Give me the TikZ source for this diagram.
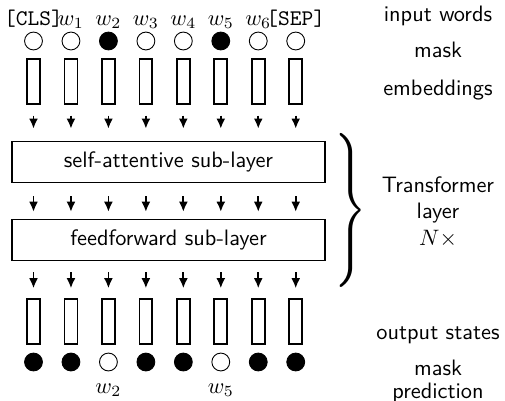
\documentclass[tikz,border=0pt]{standalone}
\usepackage{graphicx}
\usetikzlibrary{calc,positioning,arrows.meta}

\begin{document}
\begin{tikzpicture}[x=0.448pt,y=-0.448pt,font=\sffamily,
    tok/.style={draw,circle,minimum size=8pt,inner sep=0pt},
    msk/.style={tok,fill=black},
    vec/.style={draw,thick,minimum width=5.8pt,minimum height=20pt,inner sep=0pt},
    sublayer/.style={draw,thick,minimum width=140pt,minimum height=18.3pt},
    flow/.style={line width=0.8pt,-{Latex[length=4.5pt,width=4pt]}}]

\useasboundingbox (0,0) rectangle (505,400);

%input words, mask, embeddings
\foreach \t [count=\i from 0] in {{\texttt{[CLS]}},$w_1$,$w_2$,$w_3$,$w_4$,$w_5$,$w_6$,{\texttt{[SEP]}}}
  \node[anchor=base,inner sep=0pt] (in\i) at ({33.5+37.46*\i},25) {\t};
\foreach \s [count=\i from 0] in {tok,tok,msk,tok,tok,msk,tok,tok}
  \node[\s] (m\i) at ({33.5+37.46*\i},41) {};
\foreach \i in {0,...,7}
  \node[vec] (e\i) at ({33.5+37.46*\i},81.5) {};

%transformer layer
\node[sublayer] (sa) at (168.5,162) {self-attentive sub-layer};
\node[sublayer] (ff) at (168.5,240) {feedforward sub-layer};

%output states, mask, prediction
\foreach \i in {0,...,7}
  \node[vec] (o\i) at ({33.5+37.46*\i},321.5) {};
\foreach \s [count=\i from 0] in {msk,msk,tok,msk,msk,tok,msk,msk}
  \node[\s] (q\i) at ({33.5+37.46*\i},362) {};
\node[anchor=base,inner sep=0pt] (p2) at (q2 |- 0,393) {$w_2$};
\node[anchor=base,inner sep=0pt] (p5) at (q5 |- 0,393) {$w_5$};

%arrows
\foreach \i in {0,...,7} {
  \draw[flow,shorten <=4.9pt,shorten >=5.4pt] (e\i.south) -- (sa.north -| e\i);
  \draw[flow,shorten <=5.8pt,shorten >=3.1pt] (sa.south -| e\i) -- (ff.north -| e\i);
  \draw[flow,shorten <=4.9pt,shorten >=4.5pt] (ff.south -| e\i) -- (o\i.north);
}

%labels
\node[inner sep=0pt] (brace) at (351,210) {\scalebox{1.8}[2.3]{$\Bigg\}$}};
\node (lwords) at (438,16) {input words};
\node (lmask) at (438,50) {mask};
\node (lemb) at (438,90) {embeddings};
\node[align=center] (llayer) at (438,212) {Transformer\\layer\\$N\times$};
\node (lout) at (438,335) {output states};
\node (lmask2) at (438,368) {mask};
\node (lpred) at (438,393) {prediction};

\end{tikzpicture}
\end{document}
